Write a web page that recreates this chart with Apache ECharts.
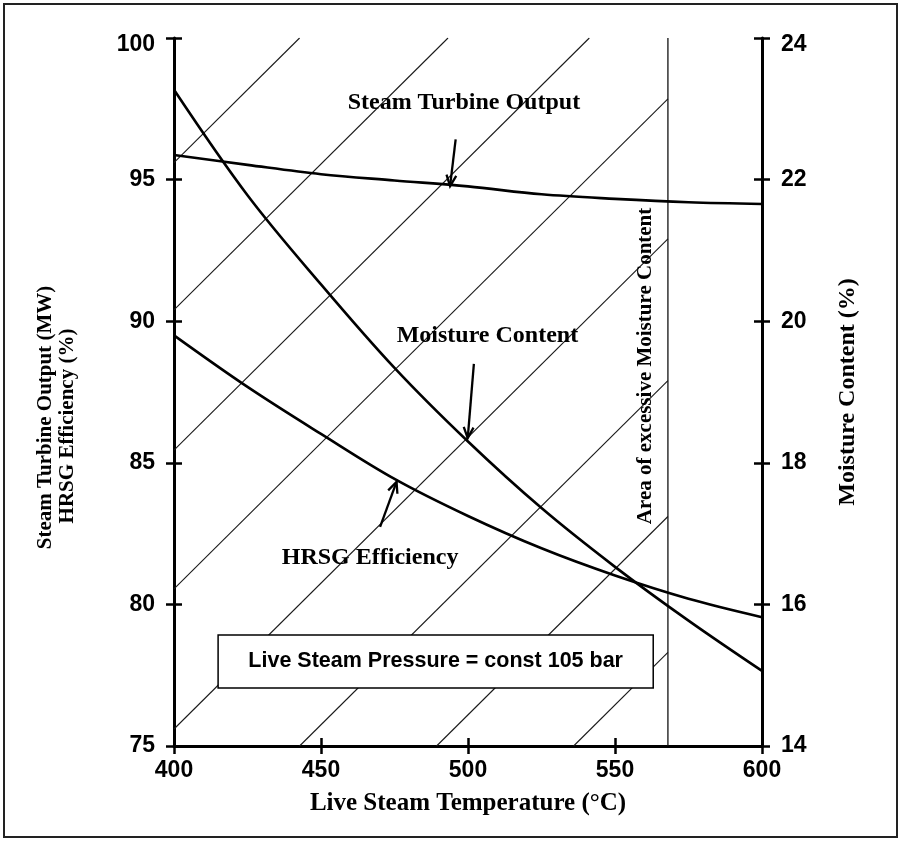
<!DOCTYPE html>
<html><head><meta charset="utf-8">
<script src="https://cdn.jsdelivr.net/npm/echarts@6/dist/echarts.min.js"></script>
<style>html,body{margin:0;padding:0;background:#fff}#c{width:901px;height:841px}</style>
</head><body><div id="c"></div>
<script>
// ---- data ----
const temps = [400, 425, 450, 475, 500, 525, 550, 575, 600];
const turbineOutput = [95.87, 95.52, 95.19, 94.97, 94.76, 94.48, 94.32, 94.20, 94.14];
const hrsgEfficiency = [89.5, 87.68, 86.02, 84.43, 83.12, 81.98, 81.02, 80.2, 79.55];
const moistureContent = [23.27, 21.78, 20.52, 19.34, 18.30, 17.36, 16.53, 15.77, 15.06];
const xTicks = [400, 450, 500, 550, 600];
const leftTicks = [75, 80, 85, 90, 95, 100];
const rightTicks = [14, 16, 18, 20, 22, 24];
const hatchOffsets = [95.6, 90.4, 85.45, 80.55, 75.6, 70.6, 65.8, 61.0]; // left-axis value at 400 °C
const hatchSlope = 0.103; // left-axis units per °C
const limitTemp = 568;
const pressureNote = 'Live Steam Pressure = const 105 bar';
const leftTitle1 = 'Steam Turbine Output (MW)';
const leftTitle2 = 'HRSG Efficiency (%)';

const black = '#000';
const serif = '"Liberation Serif", "Times New Roman", serif';
const sans = '"Liberation Sans", Arial, sans-serif';

const chart = echarts.init(document.getElementById('c'), null, {renderer: 'canvas'});

function hatchSeg(b) {
  const xMin = xTicks[0], yMin = leftTicks[0], yMax = leftTicks[leftTicks.length - 1];
  let p1 = b >= yMin ? [xMin, b] : [xMin + (yMin - b) / hatchSlope, yMin];
  const yR = b + hatchSlope * (limitTemp - xMin);
  let p2 = yR <= yMax ? [limitTemp, yR] : [xMin + (yMax - b) / hatchSlope, yMax];
  if (p1[0] >= limitTemp) return null;
  return [p1, p2];
}

const series = [];
hatchOffsets.forEach((b, i) => {
  const seg = hatchSeg(b);
  if (!seg) return;
  series.push({type: 'line', name: 'hatch' + i, data: seg, yAxisIndex: 0, symbol: 'none', silent: true,
    lineStyle: {color: '#1a1a1a', width: 1.1}, z: 1, animation: false});
});
series.push({type: 'line', name: 'limit', data: [[limitTemp, leftTicks[0]], [limitTemp, leftTicks[leftTicks.length - 1]]],
  yAxisIndex: 0, symbol: 'none', silent: true, lineStyle: {color: '#111', width: 1.3}, z: 2, animation: false});

const curveStyle = {color: black, width: 2.6};
series.push({type: 'line', name: 'Steam Turbine Output', data: temps.map((t, i) => [t, turbineOutput[i]]),
  yAxisIndex: 0, smooth: 0.35, symbol: 'none', lineStyle: curveStyle, z: 5, animation: false});
series.push({type: 'line', name: 'HRSG Efficiency', data: temps.map((t, i) => [t, hrsgEfficiency[i]]),
  yAxisIndex: 0, smooth: 0.35, symbol: 'none', lineStyle: curveStyle, z: 5, animation: false});
series.push({type: 'line', name: 'Moisture Content', data: temps.map((t, i) => [t, moistureContent[i]]),
  yAxisIndex: 1, smooth: 0.35, symbol: 'none', lineStyle: curveStyle, z: 5, animation: false});

const tickFont = {color: black, fontFamily: sans, fontWeight: 'bold', fontSize: 23};
function yLabel(maxVal) {
  return Object.assign({
    margin: 19,
    formatter: v => (v === maxVal ? '{top|' + v + '}' : String(v)),
    rich: {top: Object.assign({padding: [14, 0, 0, 0]}, tickFont)}
  }, tickFont);
}
const axisLine = {show: true, onZero: false, lineStyle: {color: black, width: 3}};
const tickOut = {show: true, length: 8, lineStyle: {color: black, width: 2.5}};
const tickIn = {show: true, inside: true, length: 8, lineStyle: {color: black, width: 2.5}};
const iv = a => a[1] - a[0];

chart.setOption({
  animation: false,
  backgroundColor: '#fff',
  grid: {left: 174, right: 139, top: 38, bottom: 95, containLabel: false},
  xAxis: [
    {type: 'value', min: xTicks[0], max: xTicks[xTicks.length - 1], interval: iv(xTicks), position: 'bottom',
      axisLine: axisLine, axisTick: tickOut, splitLine: {show: false},
      axisLabel: Object.assign({margin: 13}, tickFont),
      name: 'Live Steam Temperature (°C)', nameLocation: 'middle', nameGap: 45,
      nameTextStyle: {color: black, fontFamily: serif, fontWeight: 'bold', fontSize: 25}},
    {type: 'value', min: xTicks[0], max: xTicks[xTicks.length - 1], interval: iv(xTicks), position: 'bottom',
      axisLine: {show: false}, axisTick: tickIn, axisLabel: {show: false}, splitLine: {show: false}}
  ],
  yAxis: [
    {type: 'value', min: leftTicks[0], max: leftTicks[leftTicks.length - 1], interval: iv(leftTicks), position: 'left',
      axisLine: axisLine, axisTick: tickOut, splitLine: {show: false},
      axisLabel: yLabel(leftTicks[leftTicks.length - 1])},
    {type: 'value', min: rightTicks[0], max: rightTicks[rightTicks.length - 1], interval: iv(rightTicks), position: 'right',
      axisLine: axisLine, axisTick: tickOut, splitLine: {show: false},
      axisLabel: yLabel(rightTicks[rightTicks.length - 1]),
      name: 'Moisture Content (%)', nameLocation: 'middle', nameGap: 74, nameRotate: 90,
      nameTextStyle: {color: black, fontFamily: serif, fontWeight: 'bold', fontSize: 24}},
    {type: 'value', min: leftTicks[0], max: leftTicks[leftTicks.length - 1], interval: iv(leftTicks), position: 'left',
      axisLine: {show: false}, axisTick: tickIn, axisLabel: {show: false}, splitLine: {show: false}},
    {type: 'value', min: rightTicks[0], max: rightTicks[rightTicks.length - 1], interval: iv(rightTicks), position: 'right',
      axisLine: {show: false}, axisTick: tickIn, axisLabel: {show: false}, splitLine: {show: false}}
  ],
  series: series
});

// ---- annotations placed through the axes ----
const px = (t, v) => chart.convertToPixel({xAxisIndex: 0, yAxisIndex: 0}, [t, v]);

function arrow(from, to) {
  const a = px(from[0], from[1]), b = px(to[0], to[1]);
  const ang = Math.atan2(b[1] - a[1], b[0] - a[0]);
  const L = 12, s = 0.42;
  const l = [b[0] - L * Math.cos(ang - s), b[1] - L * Math.sin(ang - s)];
  const r = [b[0] - L * Math.cos(ang + s), b[1] - L * Math.sin(ang + s)];
  return [
    {type: 'line', shape: {x1: a[0], y1: a[1], x2: b[0], y2: b[1]}, style: {stroke: black, lineWidth: 2.3}, z: 20},
    {type: 'polyline', shape: {points: [l, b, r]}, style: {stroke: black, lineWidth: 2.3, fill: null}, z: 20}
  ];
}
function labelAt(text, p, size, rot) {
  return {type: 'text', x: p[0], y: p[1], rotation: rot || 0, z: 20,
    style: {text: text, x: 0, y: 0, align: 'center', verticalAlign: 'middle', fill: black,
      font: 'bold ' + size + 'px ' + serif}};
}
const label = (text, t, v, size, rot) => labelAt(text, px(t, v), size, rot);

const gridLeft = px(xTicks[0], leftTicks[0])[0];
const boxA = px(415, 78.92), boxB = px(563, 77.05);
const graphics = [
  {type: 'rect', shape: {x: 4, y: 4, width: 893, height: 833}, style: {fill: null, stroke: '#222', lineWidth: 2}, z: 0},
  labelAt(leftTitle1, [gridLeft - 128, px(400, 86.6)[1]], 21, Math.PI / 2),
  labelAt(leftTitle2, [gridLeft - 106, px(400, 86.3)[1]], 21, Math.PI / 2),
  label('Steam Turbine Output', 498.6, 97.7, 24),
  label('Moisture Content', 506.6, 89.5, 24),
  label('HRSG Efficiency', 466.7, 81.64, 24),
  label('Area of excessive Moisture Content', 560.5, 88.42, 21, Math.PI / 2),
  ...arrow([495.8, 96.42], [493.9, 94.77]),
  ...arrow([502.0, 88.49], [499.9, 85.87]),
  ...arrow([470.1, 82.74], [475.7, 84.33]),
  {type: 'rect', shape: {x: boxA[0], y: boxA[1], width: boxB[0] - boxA[0], height: boxB[1] - boxA[1]},
    style: {fill: '#fff', stroke: black, lineWidth: 1.5}, z: 15},
  {type: 'text', x: (boxA[0] + boxB[0]) / 2, y: (boxA[1] + boxB[1]) / 2, z: 16,
    style: {text: pressureNote, x: 0, y: 0, align: 'center', verticalAlign: 'middle', fill: black,
      font: 'bold 21.5px ' + sans}}
];
chart.setOption({graphic: graphics});
</script>
</body></html>
